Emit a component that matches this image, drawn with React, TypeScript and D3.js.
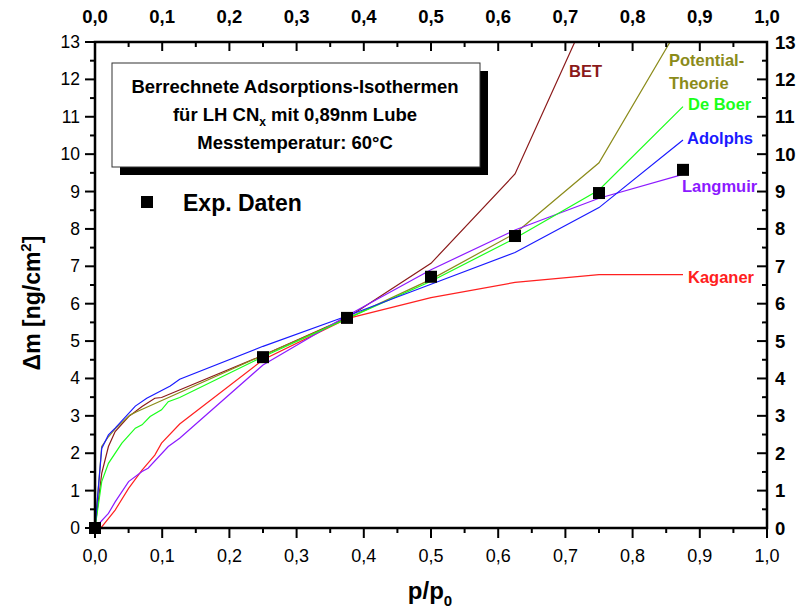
import React from 'react';
import * as d3 from 'd3';

const xTicks = [0, 0.1, 0.2, 0.3, 0.4, 0.5, 0.6, 0.7, 0.8, 0.9, 1.0];
const yTicks = [0, 1, 2, 3, 4, 5, 6, 7, 8, 9, 10, 11, 12, 13];

const expX = [0, 0.25, 0.375, 0.5, 0.625, 0.75, 0.875];
const expY = [0, 4.57, 5.62, 6.72, 7.81, 8.96, 9.58];

const betX = [0, 0.01, 0.02, 0.03, 0.05, 0.07, 0.089, 0.099, 0.25, 0.375, 0.5, 0.625, 0.75];
const betY = [0, 1.46, 2.18, 2.58, 2.98, 3.25, 3.47, 3.49, 4.62, 5.62, 7.08, 9.47, 14.43];

const potX = [0, 0.01, 0.02, 0.03, 0.052, 0.062, 0.25, 0.375, 0.5, 0.625, 0.75, 0.875];
const potY = [0, 2.18, 2.44, 2.65, 3.02, 3.11, 4.62, 5.6, 6.65, 7.88, 9.77, 13.59];

const boerX = [0, 0.01, 0.02, 0.04, 0.06, 0.07, 0.082, 0.099, 0.109, 0.126, 0.25, 0.375, 0.5, 0.625, 0.75, 0.875];
const boerY = [0, 1.24, 1.73, 2.27, 2.67, 2.76, 2.98, 3.16, 3.38, 3.49, 4.58, 5.6, 6.6, 7.75, 9.04, 11.27];

const adolX = [0, 0.01, 0.02, 0.03, 0.06, 0.077, 0.112, 0.126, 0.25, 0.375, 0.5, 0.625, 0.75, 0.875];
const adolY = [0, 2.13, 2.49, 2.67, 3.26, 3.47, 3.8, 3.98, 4.86, 5.67, 6.52, 7.37, 8.57, 10.38];

const langX = [0, 0.02, 0.03, 0.05, 0.07, 0.079, 0.109, 0.126, 0.25, 0.375, 0.5, 0.625, 0.75, 0.875];
const langY = [0, 0.39, 0.7, 1.24, 1.51, 1.6, 2.18, 2.4, 4.36, 5.68, 6.91, 7.97, 8.82, 9.46];

const kagX = [0, 0.01, 0.03, 0.05, 0.07, 0.089, 0.099, 0.126, 0.25, 0.375, 0.5, 0.625, 0.75, 0.875];
const kagY = [0, 0.03, 0.48, 1.06, 1.55, 1.95, 2.27, 2.78, 4.5, 5.6, 6.16, 6.57, 6.78, 6.78];

const series = [
  { name: 'BET', xs: betX, ys: betY, color: '#8b1a1a' },
  { name: 'Potential-Theorie', xs: potX, ys: potY, color: '#8b8b1a' },
  { name: 'Kaganer', xs: kagX, ys: kagY, color: '#ff2020' },
  { name: 'Langmuir', xs: langX, ys: langY, color: '#8c1aff' },
  { name: 'De Boer', xs: boerX, ys: boerY, color: '#1aff1a' },
  { name: 'Adolphs', xs: adolX, ys: adolY, color: '#1a1aff' },
];

const L = 95, R = 767, T = 42, B = 528;
const sans = "'Liberation Sans', Arial, sans-serif";

export default function App() {
  const x = d3.scaleLinear().domain([0, 1]).range([L, R]);
  const y = d3.scaleLinear().domain([0, 13]).range([B, T]);
  const line = d3.line<[number, number]>().x(d => x(d[0])).y(d => y(d[1]));
  const xMinor = d3.range(0, 1.0001, 0.05);
  const yMinor = d3.range(0, 13.0001, 0.5);
  const fmt = (v: number) => v.toFixed(1).replace('.', ',');

  return (
    <svg width={796} height={612} style={{ position: 'absolute', left: 0, top: 0, background: '#fff' }}>
      <defs>
        <clipPath id="plot">
          <rect x={L} y={T} width={R - L} height={B - T} />
        </clipPath>
      </defs>
      <rect x={0} y={0} width={796} height={612} fill="#fff" />

      <g clipPath="url(#plot)">
        {series.map(s => (
          <path key={s.name} d={line(s.xs.map((v, i) => [v, s.ys[i]] as [number, number])) || ''}
            fill="none" stroke={s.color} strokeWidth={1.2} />
        ))}
      </g>

      {expX.map((v, i) => (
        <rect key={i} x={x(v) - 6} y={y(expY[i]) - 6} width={12} height={12} fill="#000" />
      ))}

      {xMinor.map((v, i) => {
        const major = i % 2 === 0;
        return (
          <g key={'bx' + i}>
            <line x1={x(v)} x2={x(v)} y1={B} y2={B + (major ? 10 : 5)} stroke="#000" strokeWidth={2} />
            <line x1={x(v)} x2={x(v)} y1={T} y2={T + (major ? 9 : 5)} stroke="#000" strokeWidth={2} />
          </g>
        );
      })}
      {yMinor.map((v, i) => {
        const major = i % 2 === 0;
        return (
          <g key={'ly' + i}>
            <line x1={L} x2={L - (major ? 10 : 5)} y1={y(v)} y2={y(v)} stroke="#000" strokeWidth={2} />
            <line x1={R} x2={R - (major ? 10 : 5)} y1={y(v)} y2={y(v)} stroke="#000" strokeWidth={2} />
          </g>
        );
      })}

      <rect x={L} y={T} width={R - L} height={B - T} fill="none" stroke="#000" strokeWidth={2.5} />

      {xTicks.map(v => (
        <text key={'bl' + v} x={x(v)} y={562} textAnchor="middle" fontFamily={sans} fontSize={18} fill="#000">{fmt(v)}</text>
      ))}
      {xTicks.map(v => (
        <text key={'tl' + v} x={x(v)} y={23} textAnchor="middle" fontFamily={sans} fontWeight="bold" fontSize={18.5} fill="#000">{fmt(v)}</text>
      ))}
      {yTicks.map(v => (
        <text key={'ll' + v} x={80} y={y(v) + 6} textAnchor="end" fontFamily={sans} fontSize={17.5} fill="#000">{v}</text>
      ))}
      {yTicks.map(v => (
        <text key={'rl' + v} x={775} y={y(v) + 6.5} textAnchor="start" fontFamily={sans} fontWeight="bold" fontSize={18.5} fill="#000">{v}</text>
      ))}

      <text x={430} y={599} textAnchor="middle" fontFamily={sans} fontWeight="bold" fontSize={24} fill="#000">
        p/p<tspan fontSize={15} dy={7}>0</tspan>
      </text>
      <text transform="translate(40,303) rotate(-90)" textAnchor="middle" fontFamily={sans} fontWeight="bold" fontSize={23} fill="#000">
        Δm [ng/cm<tspan fontSize={15} dy={-9}>2</tspan><tspan dy={9}>]</tspan>
      </text>

      <rect x={120} y={71} width={368} height={104} fill="#000" />
      <rect x={112} y={63} width={368} height={104} fill="#fff" stroke="#333" strokeWidth={1} />
      <g fontFamily={sans} fontWeight="bold" fontSize={18.5} fill="#000" textAnchor="middle">
        <text x={295} y={93}>Berrechnete Adsorptions-Isothermen</text>
        <text x={295} y={121}>für LH CN<tspan fontSize={12} dy={5}>x</tspan><tspan dy={-5}> mit 0,89nm Lube</tspan></text>
        <text x={295} y={149}>Messtemperatur: 60°C</text>
      </g>

      <rect x={141} y={196} width={12} height={12} fill="#000" />
      <text x={183} y={211} fontFamily={sans} fontWeight="bold" fontSize={23} fill="#000">Exp. Daten</text>

      <g fontFamily={sans} fontWeight="bold" fontSize={16.5}>
        <text x={569} y={77} fill="#8b1a1a">BET</text>
        <text x={669} y={66} fill="#8b8b1a">Potential-</text>
        <text x={669} y={89} fill="#8b8b1a">Theorie</text>
        <text x={688} y={110} fill="#1aff1a">De Boer</text>
        <text x={687} y={144} fill="#1a1aff">Adolphs</text>
        <text x={682} y={192} fill="#8c1aff">Langmuir</text>
        <text x={688} y={283} fill="#ff2020">Kaganer</text>
      </g>
    </svg>
  );
}
